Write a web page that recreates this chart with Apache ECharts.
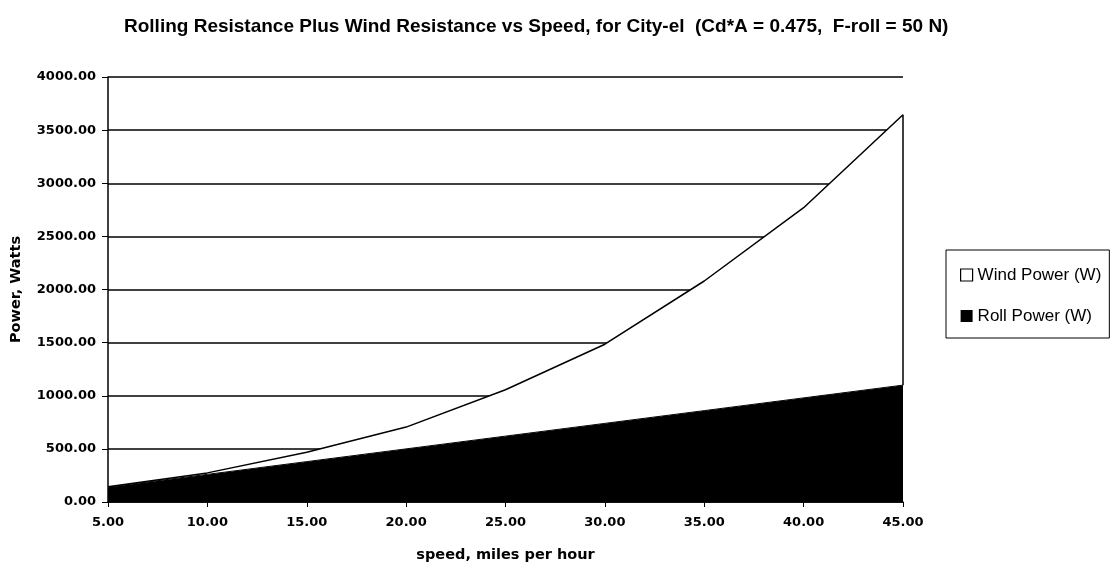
<!DOCTYPE html>
<html>
<head>
<meta charset="utf-8">
<script src="https://cdn.jsdelivr.net/npm/echarts@6/dist/echarts.min.js"></script>
<style>
  html, body { margin: 0; padding: 0; background: #fff; }
  #chart { width: 1112px; height: 575px; }
</style>
</head>
<body>
<div id="chart"></div>
<script>
// speed, mph
var speeds = [5, 10, 15, 20, 25, 30, 35, 40, 45];
// (stacked: wind sits on top of roll)
var rollPower = [140, 260, 380, 500, 620, 740, 860, 980, 1100];
var windPower = [4, 14, 88, 205, 436, 745, 1220, 1790, 2545];
var yTicks = [0, 500, 1000, 1500, 2000, 2500, 3000, 3500, 4000];

var SANS = "Liberation Sans";
var WIDE = "DejaVu Sans";
var chart = echarts.init(document.getElementById("chart"));

var last = speeds.length - 1;
var topAtEnd = rollPower[last] + windPower[last];

var option = {
  animation: false,
  backgroundColor: "#fff",
  title: {
    text: "Rolling Resistance Plus Wind Resistance vs Speed, for City-el  (Cd*A = 0.475,  F-roll = 50 N)",
    left: 119,
    top: 12,
    textStyle: { fontFamily: SANS, fontSize: 19, fontWeight: "bold", color: "#000" }
  },
  legend: {
    orient: "vertical",
    left: 946,
    top: 250,
    padding: [15, 8, 12, 14],
    itemGap: 21,
    itemWidth: 12,
    itemHeight: 12,
    borderColor: "#000",
    borderWidth: 1,
    textStyle: { fontFamily: SANS, fontSize: 17, lineHeight: 20, color: "#000" },
    data: [
      { name: "Wind Power (W)", icon: "rect", itemStyle: { color: "#fff", borderColor: "#000", borderWidth: 1.2 } },
      { name: "Roll Power (W)", icon: "rect", itemStyle: { color: "#000" } }
    ]
  },
  grid: { left: 108, right: 209, top: 77, bottom: 73, outerBoundsMode: "none", containLabel: false },
  xAxis: {
    type: "category",
    boundaryGap: false,
    data: speeds.map(function (s) { return s.toFixed(2); }),
    name: "speed, miles per hour",
    nameLocation: "middle",
    nameGap: 46,
    nameTextStyle: { fontFamily: WIDE, fontSize: 14.5, fontWeight: "bold", color: "#000" },
    axisLine: { lineStyle: { color: "#000", width: 1.5 } },
    axisTick: { show: true, length: 5, lineStyle: { color: "#000" } },
    axisLabel: { fontFamily: WIDE, fontSize: 13, fontWeight: "bold", color: "#000", margin: 14 },
    splitLine: { show: false }
  },
  yAxis: {
    type: "value",
    min: yTicks[0],
    max: yTicks[yTicks.length - 1],
    interval: 500,
    name: "Power, Watts",
    nameLocation: "middle",
    nameGap: 84,
    nameTextStyle: { fontFamily: WIDE, fontSize: 14.5, fontWeight: "bold", color: "#000" },
    axisLine: { show: true, lineStyle: { color: "#000", width: 1.5 } },
    axisTick: { show: true, length: 6, lineStyle: { color: "#000" } },
    axisLabel: {
      fontFamily: WIDE, fontSize: 13, fontWeight: "bold", color: "#000", margin: 12,
      formatter: function (v) { return v.toFixed(2); }
    },
    splitLine: { show: true, lineStyle: { color: "#000", width: 1.5 } }
  },
  series: [
    {
      name: "Roll Power (W)",
      type: "line",
      stack: "p",
      data: rollPower,
      symbol: "none",
      lineStyle: { color: "#000", width: 1 },
      itemStyle: { color: "#000" },
      areaStyle: { color: "#000", opacity: 1 }
    },
    {
      name: "Wind Power (W)",
      type: "line",
      stack: "p",
      data: windPower,
      symbol: "none",
      lineStyle: { color: "#000", width: 1.5 },
      itemStyle: { color: "#fff", borderColor: "#000" },
      areaStyle: { color: "#fff", opacity: 1 },
      markLine: {
        silent: true,
        symbol: "none",
        label: { show: false },
        lineStyle: { color: "#000", width: 1.5, type: "solid" },
        data: [[{ coord: [last, rollPower[last]] }, { coord: [last, topAtEnd] }]]
      }
    }
  ]
};

chart.setOption(option);
</script>
</body>
</html>
